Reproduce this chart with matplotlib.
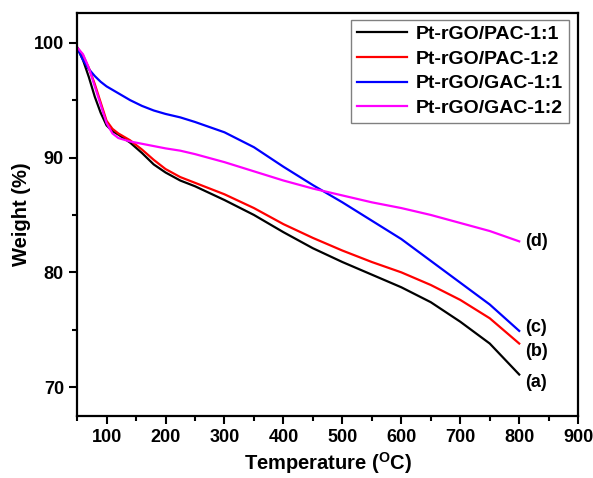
import numpy as np
import matplotlib
matplotlib.use('Agg')
from matplotlib import pyplot as plt
from matplotlib.ticker import MultipleLocator

# TGA curves
temp = [50, 60, 70, 80, 90, 100, 110, 120, 140, 160, 180, 200, 225, 250,
        300, 350, 400, 450, 500, 550, 600, 650, 700, 750, 800]

pac_11 = [99.6, 98.5, 97.0, 95.3, 93.9, 92.8, 92.3, 92.0, 91.3, 90.4, 89.4, 88.7, 88.0, 87.5,
          86.3, 85.0, 83.5, 82.1, 80.9, 79.8, 78.7, 77.4, 75.7, 73.8, 71.1]
pac_12 = [99.6, 98.9, 97.8, 96.4, 94.8, 93.2, 92.5, 92.1, 91.5, 90.7, 89.8, 89.0, 88.3, 87.8,
          86.8, 85.6, 84.2, 83.0, 81.9, 80.9, 80.0, 78.9, 77.6, 76.0, 73.8]
gac_11 = [99.6, 98.5, 97.7, 97.1, 96.6, 96.2, 95.9, 95.6, 95.0, 94.5, 94.1, 93.8, 93.5, 93.1,
          92.2, 90.9, 89.2, 87.6, 86.1, 84.5, 82.9, 81.0, 79.1, 77.2, 74.9]
gac_12 = [99.6, 99.0, 97.8, 96.2, 94.6, 93.0, 92.1, 91.7, 91.4, 91.2, 91.0, 90.8, 90.6, 90.3,
          89.6, 88.8, 88.0, 87.3, 86.7, 86.1, 85.6, 85.0, 84.3, 83.6, 82.7]

labels = ['Pt-rGO/PAC-1:1', 'Pt-rGO/PAC-1:2', 'Pt-rGO/GAC-1:1', 'Pt-rGO/GAC-1:2']
colors = ['black', 'red', 'blue', 'magenta']
tags = ['(a)', '(b)', '(c)', '(d)']
tag_y = [70.4, 73.1, 75.2, 82.7]

plt.rcParams['font.family'] = ['Liberation Sans', 'DejaVu Sans']
plt.rcParams['font.weight'] = 'bold'
plt.rcParams['mathtext.fontset'] = 'custom'
plt.rcParams['mathtext.rm'] = 'Liberation Sans:bold'
plt.rcParams['mathtext.bf'] = 'Liberation Sans:bold'

fig = plt.figure(figsize=(5.93, 4.78), dpi=100)
ax = fig.add_axes([0.130, 0.130, 0.845, 0.843])

for series, lab, col in zip([pac_11, pac_12, gac_11, gac_12], labels, colors):
    ax.plot(temp, series, color=col, lw=1.6, label=lab)

for tag, ty in zip(tags, tag_y):
    ax.text(810, ty, tag, fontsize=13, fontweight='bold', ha='left', va='center')

ax.set_xlim(50, 900)
ax.set_ylim(67.5, 102.6)
ax.xaxis.set_minor_locator(MultipleLocator(50))
ax.yaxis.set_major_locator(MultipleLocator(10))
ax.yaxis.set_minor_locator(MultipleLocator(5))
ax.set_xticks([100, 200, 300, 400, 500, 600, 700, 800, 900])
ax.tick_params(which='major', direction='out', length=6, width=1.5, labelsize=13)
ax.tick_params(which='minor', direction='out', length=3.5, width=1.5)
for lbl in ax.get_xticklabels() + ax.get_yticklabels():
    lbl.set_fontweight('bold')
for sp in ax.spines.values():
    sp.set_linewidth(1.6)

ax.set_xlabel(r'Temperature ($^{\mathbf{O}}$C)', fontsize=14.5, fontweight='bold', labelpad=3)
ax.set_ylabel('Weight (%)', fontsize=14.5, fontweight='bold', labelpad=2)

leg = ax.legend(loc='upper right', bbox_to_anchor=(0.982, 0.983), borderaxespad=0,
                fontsize=14, fancybox=False, framealpha=1, edgecolor='gray',
                handlelength=2.6, borderpad=0.3, labelspacing=0.36, handletextpad=0.45)
leg.get_frame().set_linewidth(1.0)
for t in leg.get_texts():
    t.set_fontweight('bold')

fig.savefig('out.png', dpi=100)
